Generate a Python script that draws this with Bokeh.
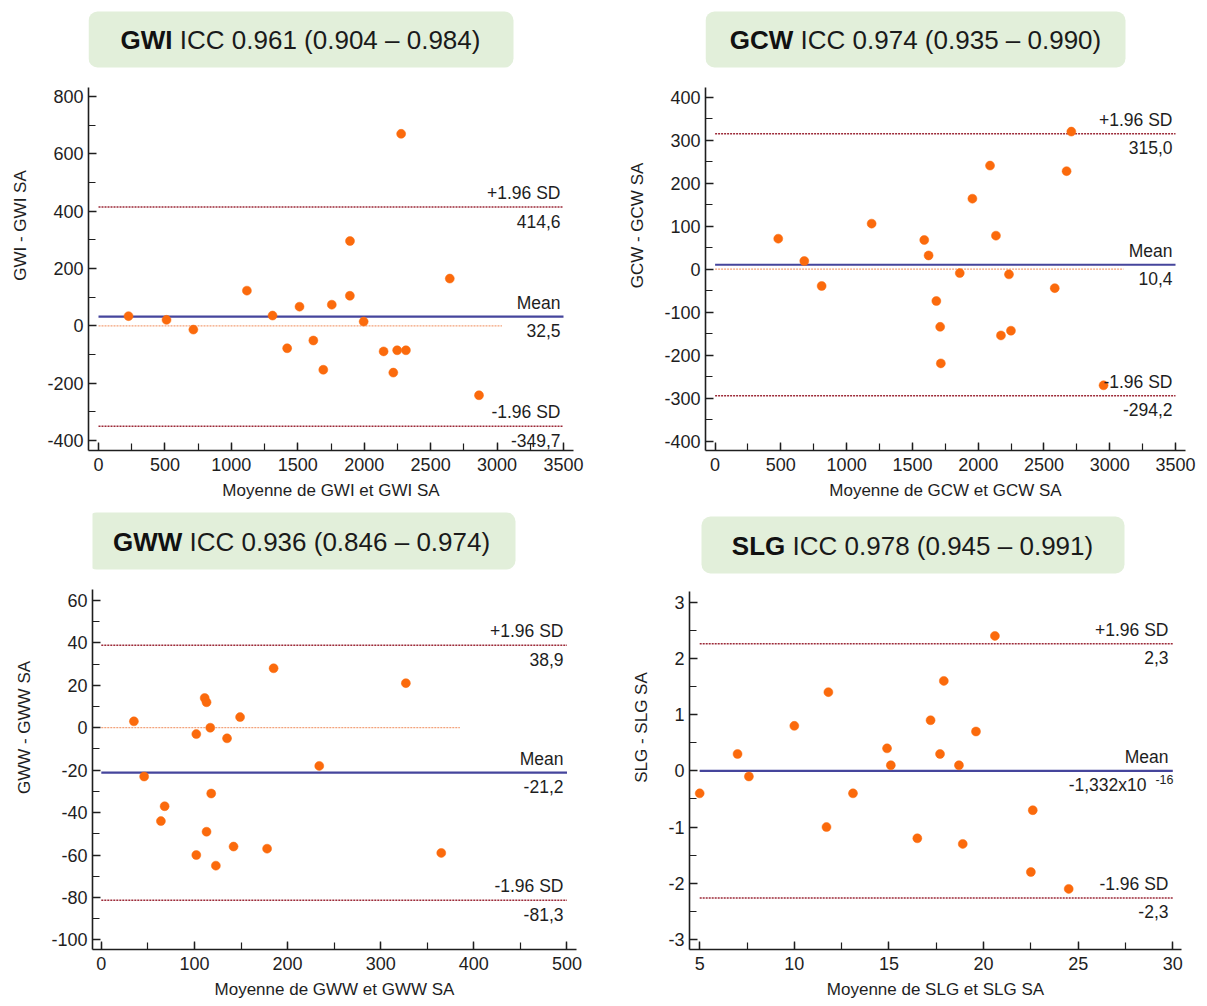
from bokeh.plotting import figure
from bokeh.layouts import column, row
from bokeh.models import Label, BoxAnnotation, SingleIntervalTicker, CustomJSTickFormatter
from bokeh.embed import file_html
from bokeh.resources import INLINE

FONT = "Liberation Sans"

# ---------------- data ----------------
gwi_x = [226, 512, 714, 1117, 1310, 1420, 1513, 1617, 1692, 1756, 1892, 1893, 1996, 2146, 2219, 2248, 2278, 2314, 2644, 2864]
gwi_y = [34, 21, -13, 123, 36, -78, 67, -51, -153, 74, 105, 296, 15, -89, -163, -85, 670, -85, 165, -242]
gwi_limits = [414.6, 32.5, -349.7]
gwi_limit_text = ["414,6", "32,5", "-349,7"]
gwi_xspan = [0, 3500]
gwi_zero_x = [0, 3037]

gcw_x = [480, 678, 810, 1190, 1590, 1623, 1682, 1711, 1716, 1860, 1956, 2090, 2135, 2173, 2234, 2249, 2582, 2672, 2708, 2953]
gcw_y = [71, 19, -39, 106, 68, 32, -74, -134, -219, -9, 164, 241, 78, -154, -12, -143, -44, 228, 320, -270]
gcw_limits = [315.0, 10.4, -294.2]
gcw_limit_text = ["315,0", "10,4", "-294,2"]
gcw_xspan = [0, 3500]
gcw_zero_x = [0, 3105]

gww_x = [35, 46, 64, 68, 102, 102, 111, 113, 113, 117, 118, 123, 135, 142, 149, 178, 185, 234, 327, 365]
gww_y = [3, -23, -44, -37, -3, -60, 14, 12, -49, 0, -31, -65, -5, -56, 5, -57, 28, -18, 21, -59]
gww_limits = [38.9, -21.2, -81.3]
gww_limit_text = ["38,9", "-21,2", "-81,3"]
gww_xspan = [0, 500]
gww_zero_x = [0, 385]

slg_x = [5.0, 7.0, 7.6, 10.0, 11.7, 11.8, 13.1, 14.9, 15.1, 16.5, 17.2, 17.7, 17.9, 18.7, 18.9, 19.6, 20.6, 22.5, 22.6, 24.5]
slg_y = [-0.4, 0.3, -0.1, 0.8, -1.0, 1.4, -0.4, 0.4, 0.1, -1.2, 0.9, 0.3, 1.6, 0.1, -1.3, 0.7, 2.4, -1.8, -0.7, -2.1]
slg_limits = [2.26, -1.332e-16, -2.26]
slg_limit_text = ["2,3", "-1,332x10", "-2,3"]
slg_xspan = [5, 30]
slg_zero_x = [5, 26]

titles_bold = ["GWI", "GCW", "GWW", "SLG"]
titles_rest = ["ICC 0.961 (0.904 \u2013 0.984)", "ICC 0.974 (0.935 \u2013 0.990)",
               "ICC 0.936 (0.846 \u2013 0.974)", "ICC 0.978 (0.945 \u2013 0.991)"]
x_titles = ["Moyenne de GWI et GWI SA", "Moyenne de GCW et GCW SA",
            "Moyenne de GWW et GWW SA", "Moyenne de SLG et SLG SA"]
y_titles = ["GWI - GWI SA", "GCW - GCW SA", "GWW - GWW SA", "SLG - SLG SA"]

# Arial / Liberation Sans advance widths (em)
REG_W = {' ': 0.278, '(': 0.333, ')': 0.333, '.': 0.278, '\u2013': 0.556, 'I': 0.278, 'C': 0.722}
BOLD_W = {'G': 0.778, 'W': 0.944, 'I': 0.278, 'C': 0.722, 'S': 0.667, 'L': 0.611}


def text_w(s, table, size):
    return sum(table.get(c, 0.556) for c in s) * size


DOT = "#fb6a0c"
MEAN_C = "#45459c"
SD_C = "#9c2a38"
ZERO_C = "#f3a27a"
TXT = "#1e1e1e"
BOX_C = "#e2efda"


def make_panel(i, xs, ys, limits, limit_text, xspan, zero_x, fig_w, fig_h, borders,
               xr, yr, ybound_top, xint, yint, box, tcenter, superscript=None):
    bl, br, bt, bb = borders
    p = figure(width=fig_w, height=fig_h, x_range=xr, y_range=yr,
               output_backend="svg", toolbar_location=None)
    p.min_border = 0
    p.min_border_left, p.min_border_right = bl, br
    p.min_border_top, p.min_border_bottom = bt, bb
    p.outline_line_color = None
    p.background_fill_color = "white"
    p.border_fill_color = "white"
    p.xgrid.visible = False
    p.ygrid.visible = False

    frame_w = fig_w - bl - br

    fmt = CustomJSTickFormatter(code="return String(Math.round(tick * 1000) / 1000);")
    p.xaxis.ticker = SingleIntervalTicker(interval=xint, num_minor_ticks=2)
    p.yaxis.ticker = SingleIntervalTicker(interval=yint, num_minor_ticks=2)
    p.xaxis.formatter = fmt
    p.yaxis.formatter = fmt
    p.yaxis.bounds = (yr[0], ybound_top)
    for ax in (p.xaxis[0], p.yaxis[0]):
        ax.axis_line_color = TXT
        ax.axis_line_width = 1.6
        ax.major_tick_line_color = TXT
        ax.major_tick_line_width = 1.4
        ax.minor_tick_line_color = TXT
        ax.minor_tick_line_width = 1.2
        ax.major_tick_in = 8
        ax.major_tick_out = 0
        ax.minor_tick_in = 7
        ax.minor_tick_out = 0
        ax.major_label_text_font = FONT
        ax.major_label_text_font_size = "18px"
        ax.major_label_text_color = TXT
        ax.axis_label_text_font = FONT
        ax.axis_label_text_font_size = "17px"
        ax.axis_label_text_font_style = "normal"
        ax.axis_label_text_color = TXT
    p.xaxis.axis_label = x_titles[i]
    p.yaxis.axis_label = y_titles[i]
    p.xaxis.major_label_standoff = 7
    p.xaxis.axis_label_standoff = 7
    p.yaxis.major_label_standoff = 5
    p.yaxis.axis_label_standoff = 14

    # reference lines
    p.line(zero_x, [0, 0], line_color=ZERO_C, line_width=1.2, line_dash="2 1")
    p.segment(x0=xspan[0], x1=xspan[1], y0=limits[0], y1=limits[0],
              line_color=SD_C, line_width=1.5, line_dash="2 1")
    p.segment(x0=xspan[0], x1=xspan[1], y0=limits[2], y1=limits[2],
              line_color=SD_C, line_width=1.5, line_dash="2 1")
    p.segment(x0=xspan[0], x1=xspan[1], y0=limits[1], y1=limits[1],
              line_color=MEAN_C, line_width=2.2)

    p.scatter(xs, ys, size=9, fill_color=DOT, line_color=DOT, line_width=0.5)

    # limit labels
    lx = frame_w - 13
    names = ["+1.96 SD", "Mean", "-1.96 SD"]
    for k in range(3):
        p.add_layout(Label(x=lx, y=limits[k], x_units="screen", y_units="data",
                           y_offset=14, text=names[k], text_align="right",
                           text_baseline="middle", text_font=FONT,
                           text_font_size="17.5px", text_color=TXT))
        if k == 1 and superscript is not None:
            p.add_layout(Label(x=frame_w - 35, y=limits[k], x_units="screen", y_units="data",
                               y_offset=-14, text=limit_text[k], text_align="right",
                               text_baseline="middle", text_font=FONT,
                               text_font_size="17.5px", text_color=TXT))
            p.add_layout(Label(x=frame_w - 8, y=limits[k], x_units="screen", y_units="data",
                               y_offset=-9, text=superscript, text_align="right",
                               text_baseline="middle", text_font=FONT,
                               text_font_size="12.5px", text_color=TXT))
        else:
            p.add_layout(Label(x=lx, y=limits[k], x_units="screen", y_units="data",
                               y_offset=-14, text=limit_text[k], text_align="right",
                               text_baseline="middle", text_font=FONT,
                               text_font_size="17.5px", text_color=TXT))

    # title box
    bx0, bx1, by0, by1 = box
    p.add_layout(BoxAnnotation(left=bx0, right=bx1, bottom=by0, top=by1,
                               left_units="screen", right_units="screen",
                               bottom_units="screen", top_units="screen",
                               fill_color=BOX_C, fill_alpha=1.0, line_color=None,
                               border_radius=9, level="underlay"))
    fs = 26
    wb = text_w(titles_bold[i], BOLD_W, fs)
    wsp = 0.278 * fs
    wr = text_w(titles_rest[i], REG_W, fs)
    total = wb + wsp + wr
    tcx, tcy = tcenter
    x0 = tcx - total / 2
    p.add_layout(Label(x=x0, y=tcy, x_units="screen", y_units="screen",
                       text=titles_bold[i], text_align="left", text_baseline="middle",
                       text_font=FONT, text_font_size=f"{fs}px", text_font_style="bold",
                       text_color="#111111"))
    p.add_layout(Label(x=x0 + wb + wsp, y=tcy, x_units="screen", y_units="screen",
                       text=titles_rest[i], text_align="left", text_baseline="middle",
                       text_font=FONT, text_font_size=f"{fs}px", text_color="#1a1a1a"))
    return p


p1 = make_panel(0, gwi_x, gwi_y, gwi_limits, gwi_limit_text, gwi_xspan, gwi_zero_x,
                600, 505, (88, 27, 0, 55), (-75.3, 3575.3), (-434.7, 1135.1), 832,
                500, 200, (0, 425, 383, 439), (212, 411))
p2 = make_panel(1, gcw_x, gcw_y, gcw_limits, gcw_limit_text, gcw_xspan, gcw_zero_x,
                607, 505, (105, 22, 0, 55), (-73.0, 3576.0), (-421.6, 624.9), 421.9,
                500, 100, (0, 420, 383, 439), (210, 411))
p3 = make_panel(2, gww_x, gww_y, gww_limits, gww_limit_text, gww_xspan, gww_zero_x,
                600, 501, (92, 24, 0, 53), (-9.45, 510.2), (-104.5, 104.7), 65.0,
                100, 20, (-5, 423, 380, 437), (209, 408))
p4 = make_panel(3, slg_x, slg_y, slg_limits, slg_limit_text, slg_xspan, slg_zero_x,
                607, 501, (89, 26, 0, 57), (4.461, 30.46), (-3.178, 4.720), 3.19,
                5, 1, (12, 435, 376, 433), (223, 404), superscript="-16")

layout = column(row(p1, p2), row(p3, p4))

open("out.html", "w").write(file_html(layout, INLINE))
